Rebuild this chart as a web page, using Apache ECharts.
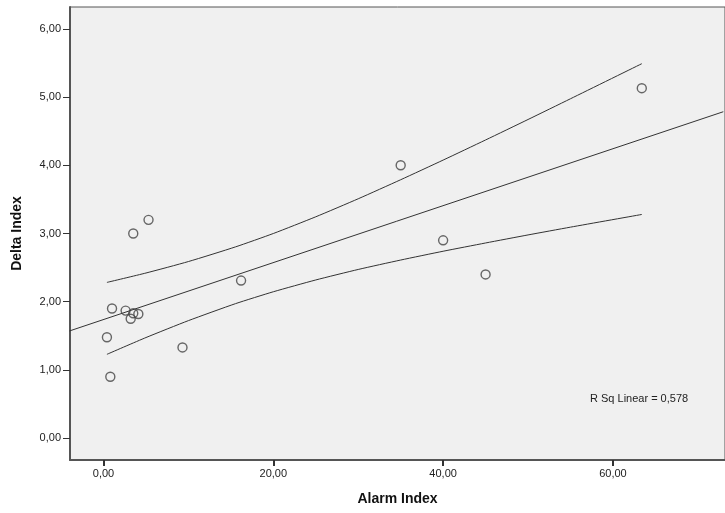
<!DOCTYPE html>
<html>
<head>
<meta charset="utf-8">
<script src="https://cdn.jsdelivr.net/npm/echarts@6/dist/echarts.min.js"></script>
<style>html,body{margin:0;padding:0;background:#fff}#c{width:725px;height:513px}</style>
</head>
<body>
<div id="c"></div>
<script>
// Scatter data (Alarm Index vs Delta Index)
const alarmIndex = [5.3, 3.5, 16.2, 1.0, 2.6, 3.5, 4.1, 3.2, 0.4, 9.3, 0.8, 35.0, 40.0, 45.0, 63.4];
const deltaIndex = [3.20, 3.00, 2.31, 1.90, 1.87, 1.83, 1.82, 1.75, 1.48, 1.33, 0.90, 4.00, 2.90, 2.40, 5.13];
// Linear fit line (read at plot edges)
const fitX = [-4, 73];
const fitY = [1.572, 4.785];
// 95% confidence band of the mean
const bandX = [0.4, 5, 10, 15.55, 20, 25, 30, 35, 40, 45, 50, 55, 63.4];
const upperBand = [2.283, 2.421, 2.589, 2.804, 3.000, 3.245, 3.509, 3.788, 4.076, 4.371, 4.671, 4.975, 5.489];
const lowerBand = [1.229, 1.475, 1.723, 1.972, 2.146, 2.319, 2.473, 2.611, 2.740, 2.861, 2.979, 3.093, 3.279];
// Tick labels
const xTicks = [0, 20, 40, 60];
const yTicks = [0, 1, 2, 3, 4, 5, 6];
const rsqText = 'R Sq Linear = 0,578';

const fmt = v => v.toFixed(2).replace('.', ',');
const pairs = (xs, ys) => xs.map((x, i) => [x, ys[i]]);
const lineStyle = { color: '#333', width: 1 };

const chart = echarts.init(document.getElementById('c'), null, { renderer: 'canvas' });
chart.setOption({
  animation: false,
  backgroundColor: '#fff',
  textStyle: { fontFamily: 'Liberation Sans' },
  grid: {
    left: 70, top: 7, width: 658, bottom: 53,
    show: true, backgroundColor: '#f0f0f0', borderColor: '#555', borderWidth: 1
  },
  xAxis: {
    type: 'value', min: -3.95, max: 73.2,
    name: 'Alarm Index', nameLocation: 'middle', nameGap: 32,
    nameTextStyle: { fontFamily: 'Liberation Sans', fontWeight: 'bold', fontSize: 14, color: '#111' },
    axisLine: { show: true, onZero: false, lineStyle: { color: '#555', width: 2 } },
    axisTick: { show: true, customValues: xTicks, length: 6, lineStyle: { color: '#333', width: 2 } },
    axisLabel: { customValues: xTicks, formatter: fmt, fontSize: 11, color: '#222', margin: 8 },
    splitLine: { show: false }
  },
  yAxis: {
    type: 'value', min: -0.32, max: 6.32,
    name: 'Delta Index', nameLocation: 'middle', nameGap: 46, nameRotate: 90,
    nameTextStyle: { fontFamily: 'Liberation Sans', fontWeight: 'bold', fontSize: 14, color: '#111' },
    axisLine: { show: true, onZero: false, lineStyle: { color: '#555', width: 2 } },
    axisTick: { show: true, customValues: yTicks, length: 7, lineStyle: { color: '#333', width: 1 } },
    axisLabel: { customValues: yTicks, formatter: fmt, fontSize: 11, color: '#222', margin: 9 },
    splitLine: { show: false }
  },
  series: [
    { type: 'line', data: pairs(fitX, fitY), showSymbol: false, symbol: 'none', lineStyle, silent: true, z: 2 },
    { type: 'line', data: pairs(bandX, upperBand), showSymbol: false, symbol: 'none', smooth: 0.2, lineStyle, silent: true, z: 2 },
    { type: 'line', data: pairs(bandX, lowerBand), showSymbol: false, symbol: 'none', smooth: 0.2, lineStyle, silent: true, z: 2 },
    {
      type: 'scatter', data: pairs(alarmIndex, deltaIndex), symbol: 'circle', symbolSize: 9,
      itemStyle: { color: 'rgba(0,0,0,0)', borderColor: '#444', borderWidth: 1.4 }, z: 3
    }
  ],
  graphic: [{
    type: 'text', left: 590, top: 393,
    style: { text: rsqText, font: '11px "Liberation Sans"', fill: '#222' }
  }]
});
</script>
</body>
</html>
